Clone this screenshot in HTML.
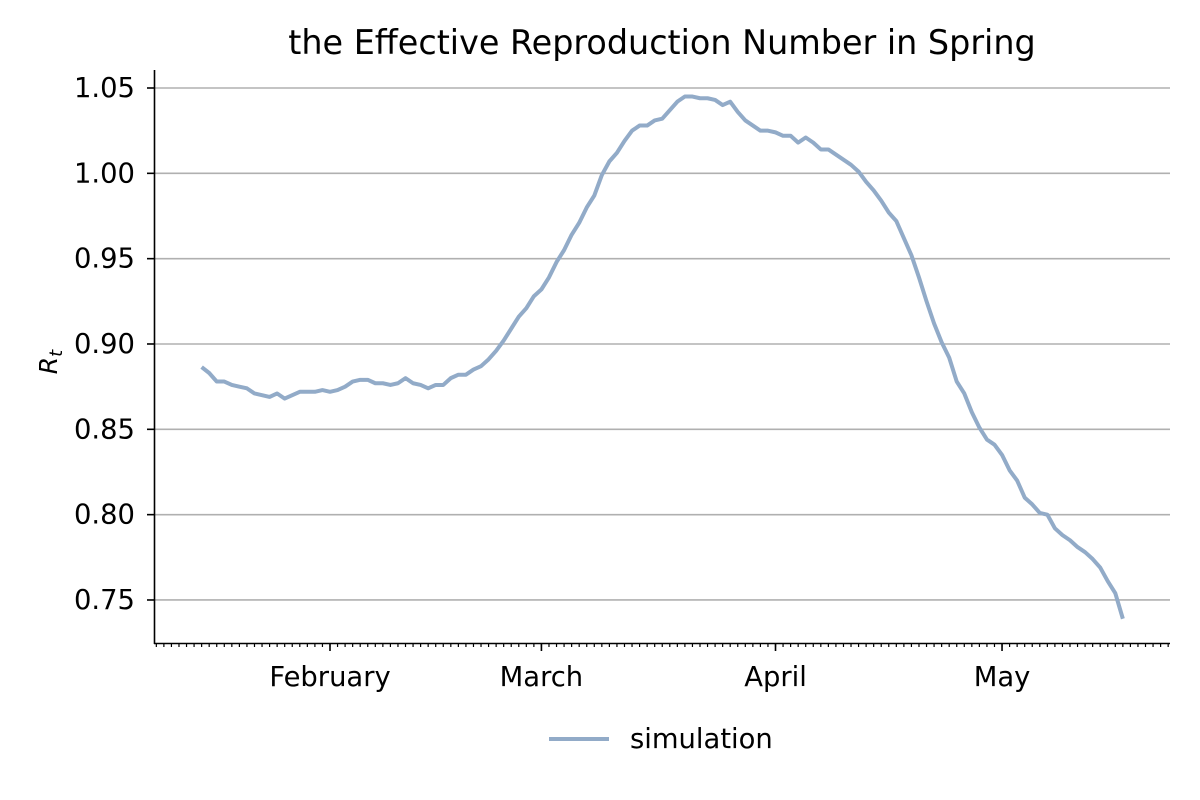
<!DOCTYPE html>
<html><head><meta charset="utf-8"><style>
html,body{margin:0;padding:0;background:#fff;}
svg{display:block;font-family:"DejaVu Sans","Liberation Sans",sans-serif;}
</style></head><body>
<svg id="chart" width="1200" height="800" viewBox="0 0 1200 800">
<text x="662" y="54" font-size="33.4" text-anchor="middle" fill="#000">the Effective Reproduction Number in Spring</text>
<g id="grid"></g>
<g id="yticks"></g>
<g id="xticks"></g>
<path id="line" fill="none" stroke="#92abc8" stroke-width="4" stroke-linejoin="round"></path>
<line x1="154.5" y1="70" x2="154.5" y2="644" stroke="#000" stroke-width="1.6"/>
<line x1="154" y1="643.5" x2="1170" y2="643.5" stroke="#000" stroke-width="1.6"/>
<text transform="translate(57,362) rotate(-90)" font-size="25" font-style="italic" text-anchor="middle">R<tspan font-size="18" dy="5">t</tspan></text>
<g>
<line x1="549" y1="739" x2="609" y2="739" stroke="#92abc8" stroke-width="4"/>
<text x="630" y="748" font-size="27.4">simulation</text>
</g>
</svg>
<script>
const startDate = [2021, 0, 15];
const rtValues = [0.8865,0.883,0.878,0.878,0.876,0.875,0.874,0.871,0.870,0.869,0.871,0.868,0.870,0.872,0.872,0.872,0.873,
0.872,0.873,0.875,0.878,0.879,0.879,0.877,0.877,0.876,0.877,0.880,0.877,0.876,0.874,0.876,0.876,0.880,0.882,0.882,0.885,0.887,0.891,0.896,0.902,0.909,0.916,0.921,0.928,
0.932,0.939,0.948,0.955,0.964,0.971,0.980,0.987,0.999,1.007,1.012,1.019,1.025,1.028,1.028,1.031,1.032,1.037,1.042,1.045,1.045,1.044,1.044,1.043,1.040,1.042,1.036,1.031,1.028,1.025,1.025,
1.024,1.022,1.022,1.018,1.021,1.018,1.014,1.014,1.011,1.008,1.005,1.001,0.995,0.990,0.984,0.977,0.972,0.962,0.952,0.939,0.925,0.912,0.901,0.892,0.878,0.871,0.860,0.851,0.844,0.841,
0.835,0.826,0.820,0.810,0.806,0.801,0.800,0.792,0.788,0.785,0.781,0.778,0.774,0.769,0.761,0.754,0.739];
const yTicks = [0.75,0.80,0.85,0.90,0.95,1.00,1.05];
const monthLabels = ["February","March","April","May"];
const monthStarts = [[2021,1,1],[2021,2,1],[2021,3,1],[2021,4,1]];

const NS="http://www.w3.org/2000/svg";
const DAY=86400000;
const feb1=Date.UTC(2021,1,1);
function xs(t){return 330+(t-feb1)/DAY*7.551;}
function ys(v){return 88+(1.05-v)/0.05*85.33;}
function mk(tag,attrs,parent){const e=document.createElementNS(NS,tag);for(const k in attrs)e.setAttribute(k,attrs[k]);parent.appendChild(e);return e;}

const grid=document.getElementById('grid'), yt=document.getElementById('yticks'), xt=document.getElementById('xticks');
yTicks.forEach(v=>{
  const y=ys(v);
  const g=mk('line',{x1:155,x2:1170,y1:y,y2:y,stroke:'#b0b0b0','stroke-width':1.6},grid);
  
  
  const t=mk('line',{x1:147,x2:155,y1:y,y2:y,stroke:'#000','stroke-width':1.6},yt);
  
  
  const l=mk('text',{x:135,y:y+9,'font-size':27.4,'text-anchor':'end'},yt);
  l.textContent=v.toFixed(2);
  
  
});
for(let t=Date.UTC(2021,0,9);t<=Date.UTC(2021,4,23);t+=DAY){
  const x=xs(t);
  const m=mk('line',{x1:x,x2:x,y1:643,y2:647,stroke:'#000','stroke-width':1.2},xt);
  
  
}
monthStarts.forEach((d,i)=>{
  const x=xs(Date.UTC(d[0],d[1],d[2]));
  const m=mk('line',{x1:x,x2:x,y1:643,y2:651,stroke:'#000','stroke-width':1.6},xt);
  
  
  const l=mk('text',{x:x,y:686,'font-size':27.4,'text-anchor':'middle'},xt);
  l.textContent=monthLabels[i];
  
  
});
const s=Date.UTC(startDate[0],startDate[1],startDate[2]);
let d='';
rtValues.forEach((v,i)=>{d+=(i?'L':'M')+xs(s+i*DAY).toFixed(2)+' '+ys(v).toFixed(2);});
document.getElementById('line').setAttribute('d',d);
</script>
</body></html>
